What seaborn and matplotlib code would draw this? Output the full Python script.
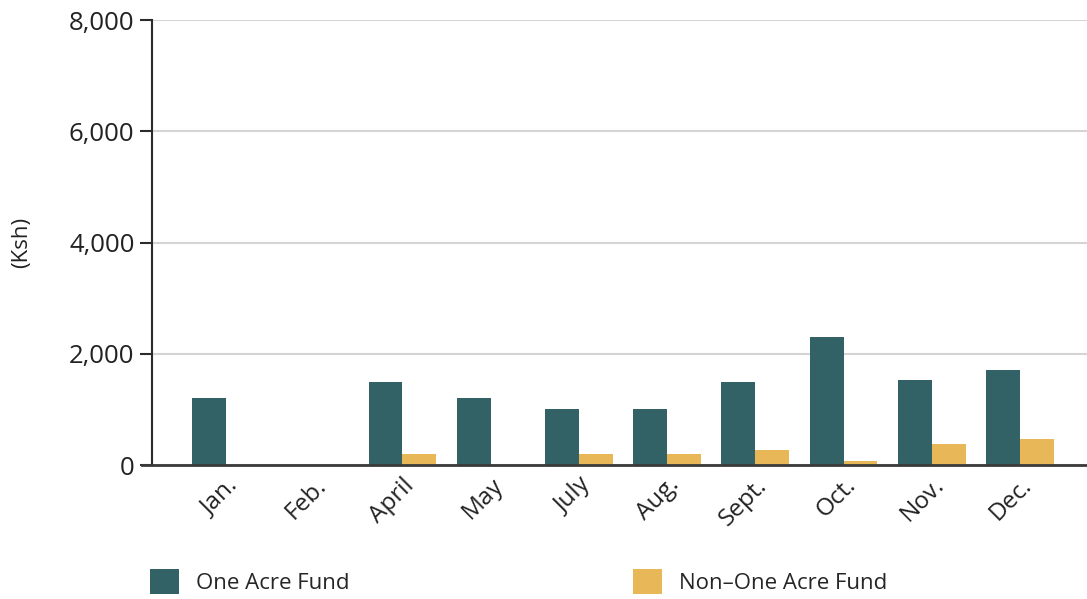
import numpy as np
import pandas as pd
import seaborn as sns
import matplotlib.pyplot as plt
from matplotlib.ticker import FuncFormatter

months = ["Jan.", "Feb.", "April", "May", "July", "Aug.", "Sept.", "Oct.", "Nov.", "Dec."]
one_acre = [1200, 0, 1500, 1200, 1000, 1000, 1500, 2300, 1520, 1700]
non_one_acre = [0, 0, 200, 0, 200, 200, 270, 70, 380, 470]
groups = ["One Acre Fund", "Non\u2013One Acre Fund"]
colors = ["#336266", "#E8B757"]

df = pd.DataFrame({
    "month": months * 2,
    "group": [groups[0]] * len(months) + [groups[1]] * len(months),
    "value": one_acre + non_one_acre,
})

sns.set_theme(style="white")
plt.rcParams["font.family"] = ["Open Sans", "DejaVu Sans"]

fig = plt.figure(figsize=(10.87, 5.99), dpi=100)
ax = fig.add_axes([0.1398, 0.2237, 0.8602, 0.7429])

sns.barplot(data=df, x="month", y="value", hue="group", palette=colors,
            width=0.77, gap=0, saturation=1, linewidth=0, edgecolor="none", ax=ax)

handles, labels = ax.get_legend_handles_labels()
ax.get_legend().remove()

ax.set_xlim(-0.84, 9.76)
ax.set_ylim(0, 8000)
ax.set_yticks([0, 2000, 4000, 6000, 8000])
ax.yaxis.set_major_formatter(FuncFormatter(lambda v, p: f"{int(v):,}"))
ax.yaxis.grid(True, color="#d4d4d4", linewidth=1.5)
ax.set_axisbelow(True)

for s in ["top", "right"]:
    ax.spines[s].set_visible(False)
ax.spines["left"].set_color("#2b2b2b")
ax.spines["left"].set_linewidth(1.5)
ax.spines["bottom"].set_color("#3a3a3a")
ax.spines["bottom"].set_linewidth(2)
ax.spines["bottom"].set_bounds(-0.84 - 0.11, 9.76)
ax.spines["bottom"].set_zorder(5)

ax.tick_params(axis="y", length=8.5, width=1.5, color="#2b2b2b", labelsize=18.5,
               labelcolor="#222222", left=True, pad=4)
ax.tick_params(axis="x", length=0, labelsize=17.5, labelcolor="#222222", pad=6)
plt.setp(ax.get_xticklabels(), rotation=45, ha="right", rotation_mode="anchor")

ax.set_xlabel("")
ax.set_ylabel("(Ksh)", fontsize=16, color="#222222")
ax.yaxis.set_label_coords(-0.128, 0.5)

leg1 = fig.legend([handles[0]], [labels[0]], loc="center left",
                  bbox_to_anchor=(0.120, 0.029), frameon=False, fontsize=16,
                  handlelength=1.3, handleheight=1.3, handletextpad=0.75)
leg2 = fig.legend([handles[1]], [labels[1]], loc="center left",
                  bbox_to_anchor=(0.564, 0.029), frameon=False, fontsize=16,
                  handlelength=1.3, handleheight=1.3, handletextpad=0.75)

fig.savefig("out.png", dpi=100)
